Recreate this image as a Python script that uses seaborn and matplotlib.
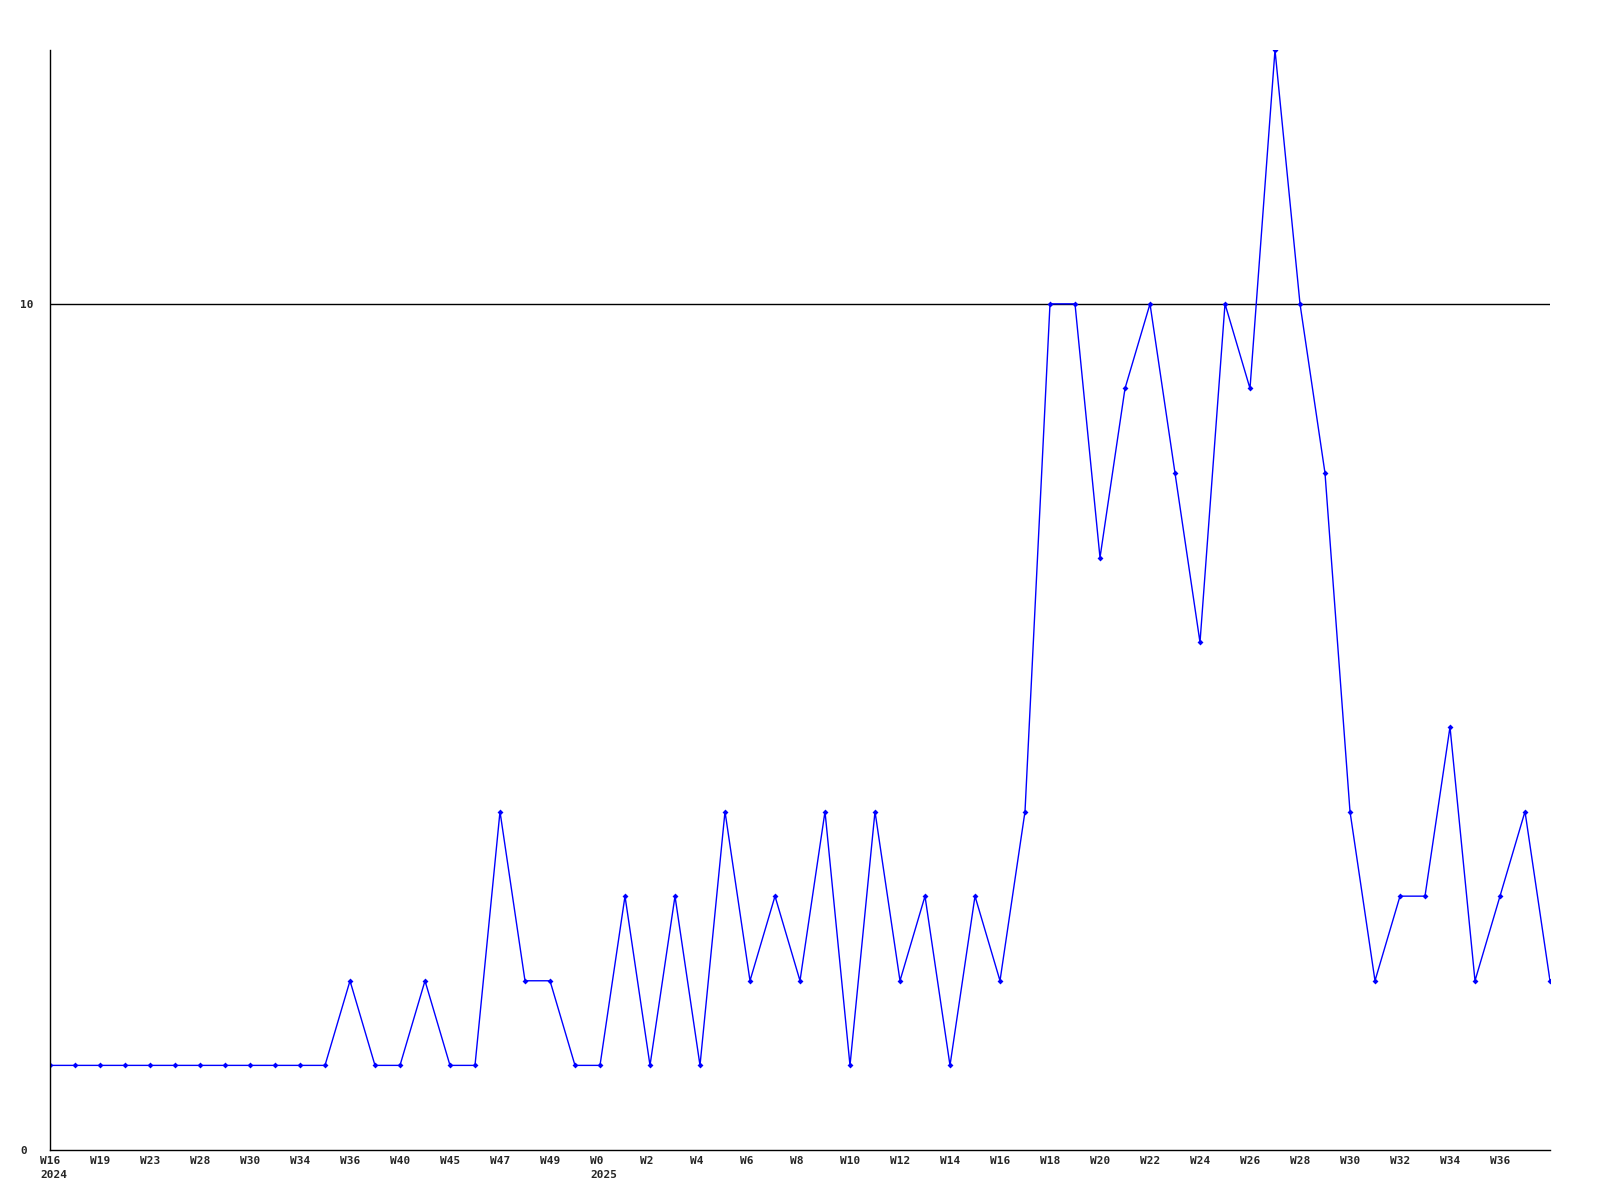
import matplotlib
matplotlib.use("Agg")
import matplotlib.pyplot as plt
import matplotlib.transforms as mtransforms
import seaborn as sns
import pandas as pd
import numpy as np

values = [1, 1, 1, 1, 1, 1, 1, 1, 1, 1, 1, 1, 2, 1, 1, 2, 1, 1, 4, 2,
          2, 1, 1, 3, 1, 3, 1, 4, 2, 3, 2, 4, 1, 4, 2, 3, 1, 3, 2, 4,
          10, 10, 7, 9, 10, 8, 6, 10, 9, 13, 10, 8, 4, 2, 3, 3, 5, 2, 3, 4, 2]
tick_labels = ["W16\n2024", "W19", "W23", "W28", "W30", "W34", "W36", "W40", "W45", "W47",
               "W49", "W0\n2025", "W2", "W4", "W6", "W8", "W10", "W12", "W14", "W16",
               "W18", "W20", "W22", "W24", "W26", "W28", "W30", "W32", "W34", "W36"]
y_ticks = [0, 10]

df = pd.DataFrame({"idx": np.arange(len(values)), "value": values})

sns.set_theme(style="white")
plt.rcParams['font.family'] = ['DejaVu Sans Mono', 'DejaVu Sans']

fig = plt.figure(figsize=(16, 12), dpi=100)
ax = fig.add_axes([50/1600, 50/1200, 1500/1600, 1100/1200])

sns.lineplot(data=df, x="idx", y="value", ax=ax, color="#0000FF", linewidth=1.0,
             marker="D", markersize=3, markeredgewidth=0, markerfacecolor="#0000FF")

ax.set_xlim(0, len(values) - 1)
ax.set_ylim(0, 13)
ax.set_xlabel("")
ax.set_ylabel("")

ax.set_yticks(y_ticks)
ax.set_yticklabels([str(v) for v in y_ticks], fontsize=8, fontweight="bold")
ax.set_xticks(np.arange(0, len(values) - 1, 2)[:len(tick_labels)])
ax.set_xticklabels(tick_labels, fontsize=8, fontweight="bold")

ax.tick_params(axis="both", length=0)
ax.tick_params(axis="y", pad=21.6)
ax.tick_params(axis="x", pad=4)
for lab in ax.get_yticklabels():
    lab.set_ha("left")
offset = mtransforms.ScaledTranslation(-10/100, 0, fig.dpi_scale_trans)
for lab in ax.get_xticklabels():
    lab.set_ha("left")
    lab.set_multialignment("left")
    lab.set_linespacing(1.6)
    lab.set_transform(lab.get_transform() + offset)

ax.axhline(10, color="black", linewidth=1, zorder=0)
for s in ["top", "right"]:
    ax.spines[s].set_visible(False)
for s in ["left", "bottom"]:
    ax.spines[s].set_color("black")
    ax.spines[s].set_linewidth(1.0)
ax.grid(False)

fig.savefig("out.png", dpi=100)
